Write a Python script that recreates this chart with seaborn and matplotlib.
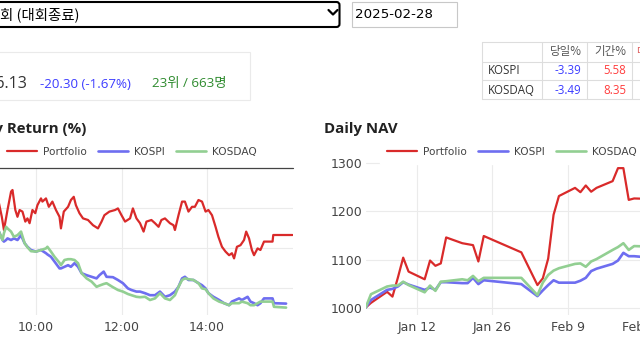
import pandas as pd
import seaborn as sns
import matplotlib.pyplot as plt
from matplotlib.patches import Rectangle, FancyBboxPatch
from matplotlib.lines import Line2D
from matplotlib.transforms import IdentityTransform

# intraday return (%) of the portfolio
port_time = ["09:08", "09:12", "09:15", "09:20", "09:25", "09:27", "09:31", "09:34", "09:37", "09:41",
             "09:45", "09:48", "09:51", "09:55", "09:59", "10:02", "10:07", "10:09", "10:14", "10:18",
             "10:23", "10:28", "10:33", "10:35", "10:39", "10:45", "10:49", "10:53", "10:56", "11:01",
             "11:06", "11:13", "11:20", "11:27", "11:32", "11:36", "11:43", "11:51", "11:55", "12:00",
             "12:05", "12:12", "12:16", "12:21", "12:26", "12:31", "12:35", "12:42", "12:47", "12:52",
             "12:56", "13:01", "13:08", "13:13", "13:15", "13:20", "13:25", "13:29", "13:34", "13:39",
             "13:43", "13:48", "13:53", "13:58", "14:02", "14:07", "14:12", "14:16", "14:21", "14:26",
             "14:31", "14:35", "14:38", "14:42", "14:47", "14:52", "14:55", "14:59", "15:03", "15:06",
             "15:11", "15:15", "15:20", "15:32", "15:33", "16:00"]
port_ret = [-0.88, -1.22, -1.55, -1.05, -0.59, -0.55, -1.05, -1.22, -1.05, -1.09,
            -1.34, -1.26, -1.38, -1.05, -1.13, -0.93, -0.76, -0.84, -0.76, -0.97,
            -0.84, -1.05, -1.22, -1.51, -1.09, -0.97, -0.80, -0.72, -0.93, -1.13,
            -1.26, -1.30, -1.43, -1.51, -1.34, -1.18, -1.09, -1.05, -1.01, -1.18,
            -1.34, -1.26, -1.01, -1.26, -1.38, -1.59, -1.34, -1.30, -1.38, -1.47,
            -1.30, -1.26, -1.38, -1.43, -1.55, -1.18, -0.84, -0.84, -1.09, -0.97,
            -0.97, -0.80, -0.84, -1.09, -1.05, -1.18, -1.47, -1.72, -1.97, -2.09,
            -2.18, -2.13, -2.26, -1.97, -1.93, -1.80, -1.59, -1.76, -2.05, -2.18,
            -2.01, -2.05, -1.84, -1.84, -1.675, -1.675]

# intraday return (%) of the two indices
idx_time = ["09:08", "09:13", "09:15", "09:18", "09:20", "09:25", "09:29", "09:34", "09:39", "09:44",
            "09:48", "09:53", "10:00", "10:07", "10:14", "10:16", "10:21", "10:26", "10:33", "10:35",
            "10:40", "10:45", "10:49", "10:54", "10:59", "11:04", "11:11", "11:18", "11:25", "11:29",
            "11:35", "11:39", "11:48", "11:55", "12:02", "12:09", "12:14", "12:21", "12:26", "12:33",
            "12:40", "12:47", "12:54", "13:01", "13:08", "13:15", "13:20", "13:25", "13:29", "13:34",
            "13:41", "13:48", "13:53", "13:58", "14:02", "14:09", "14:17", "14:24", "14:31", "14:35",
            "14:40", "14:45", "14:49", "14:57", "15:01", "15:06", "15:11", "15:15", "15:20", "15:27",
            "15:32", "15:34", "15:51"]
kospi_ret = [-1.59, -1.80, -1.84, -1.80, -1.76, -1.80, -1.76, -1.80, -1.68, -1.88,
             -1.97, -2.05, -2.09, -2.05, -2.13, -2.16, -2.22, -2.34, -2.51, -2.51,
             -2.47, -2.43, -2.47, -2.38, -2.47, -2.63, -2.68, -2.72, -2.76, -2.68,
             -2.59, -2.72, -2.73, -2.80, -2.88, -3.01, -3.05, -3.09, -3.09, -3.13,
             -3.18, -3.18, -3.09, -3.22, -3.18, -3.09, -2.97, -2.76, -2.72, -2.80,
             -2.80, -2.88, -2.93, -3.01, -3.13, -3.22, -3.30, -3.38, -3.43, -3.34,
             -3.30, -3.26, -3.30, -3.22, -3.34, -3.38, -3.43, -3.38, -3.26, -3.26,
             -3.26, -3.38, -3.39]
kosdaq_ret = [-1.59, -1.80, -1.63, -1.47, -1.51, -1.59, -1.72, -1.68, -1.59, -1.88,
              -1.98, -2.08, -2.09, -2.05, -2.01, -1.97, -2.09, -2.22, -2.37, -2.43,
              -2.30, -2.28, -2.28, -2.30, -2.38, -2.63, -2.76, -2.84, -2.97, -2.94,
              -2.90, -2.88, -2.98, -3.05, -3.09, -3.15, -3.18, -3.22, -3.23, -3.22,
              -3.30, -3.26, -3.13, -3.26, -3.30, -3.18, -2.97, -2.80, -2.76, -2.78,
              -2.80, -2.88, -3.01, -3.03, -3.13, -3.26, -3.34, -3.38, -3.43, -3.38,
              -3.38, -3.38, -3.34, -3.38, -3.43, -3.43, -3.38, -3.34, -3.34, -3.34,
              -3.34, -3.47, -3.49]
ret_ticks = ["10:00", "12:00", "14:00"]
ret_yticks = [-3, -2, -1]

# daily NAV
nav_dates = ["2025-01-02", "2025-01-03", "2025-01-06", "2025-01-07", "2025-01-08", "2025-01-09",
             "2025-01-10", "2025-01-13", "2025-01-14", "2025-01-15", "2025-01-16", "2025-01-17",
             "2025-01-20", "2025-01-21", "2025-01-22", "2025-01-23", "2025-01-24", "2025-01-31",
             "2025-02-03", "2025-02-04", "2025-02-05", "2025-02-06", "2025-02-07", "2025-02-10",
             "2025-02-11", "2025-02-12", "2025-02-13", "2025-02-14", "2025-02-17", "2025-02-18",
             "2025-02-19", "2025-02-20", "2025-02-21", "2025-02-24", "2025-02-25", "2025-02-26",
             "2025-02-27", "2025-02-28"]
port_nav = [1000, 1010, 1033, 1023, 1062, 1104, 1075, 1059, 1098, 1087,
            1092, 1146, 1134, 1132, 1130, 1096, 1149, 1115, 1047, 1061,
            1102, 1193, 1232, 1249, 1240, 1254, 1241, 1249, 1263, 1290,
            1290, 1224, 1227, 1226, 1229, 1222, 1216.43, 1196.13]
kospi_nav = [1000, 1016, 1037, 1039, 1044, 1053, 1048, 1037, 1042, 1037,
             1053, 1053, 1051, 1051, 1062, 1049, 1057, 1049, 1024, 1036,
             1047, 1057, 1052, 1052, 1056, 1062, 1076, 1081, 1091, 1098,
             1114, 1107, 1107, 1104, 1100, 1101, 1092.8, 1055.8]
kosdaq_nav = [1000, 1028, 1044, 1046, 1046, 1054, 1047, 1032, 1046, 1035,
              1054, 1055, 1059, 1057, 1066, 1055, 1062, 1062, 1026, 1052,
              1068, 1077, 1082, 1091, 1092, 1085, 1096, 1101, 1120, 1126,
              1134, 1120, 1128, 1127, 1125, 1128, 1122.7, 1083.5]
nav_ticks = ["2025-01-12", "2025-01-26", "2025-02-09", "2025-02-23"]
nav_tick_labels = ["Jan 12", "Jan 26", "Feb 9", "Feb 23"]
nav_yticks = [1000, 1100, 1200, 1300]

# header / table
rank, players = 23, 663
index_names = ["KOSPI", "KOSDAQ"]
index_day = ["-3.39", "-3.49"]
index_period = ["5.58", "8.35"]

series = ["Portfolio", "KOSPI", "KOSDAQ"]
colors = {"Portfolio": "#d92a2a", "KOSPI": "#6e6ef0", "KOSDAQ": "#92cf92"}
widths = {"Portfolio": 1.6, "KOSPI": 1.9, "KOSDAQ": 1.9}

W, H = 640, 360
DAY = "2025-02-28"
KR = ["Noto Sans CJK KR", "DejaVu Sans"]

sns.set_style("white")
plt.rcParams["font.family"] = ["DejaVu Sans"]

fig = plt.figure(figsize=(W / 100, H / 100), dpi=100)
PX = IdentityTransform()


def fx(x):
    return x / W


def fy(y):
    return 1 - y / H


def text(x, y, s, **kw):
    fig.text(fx(x), fy(y), s, **kw)


def box(x0, y0, x1, y1, **kw):
    fig.add_artist(Rectangle((x0, H - y1), x1 - x0, y1 - y0, transform=PX, **kw))


def seg(xs, ys, **kw):
    fig.add_artist(Line2D(xs, [H - y for y in ys], transform=PX, **kw))


# ---- page controls ----
fig.add_artist(FancyBboxPatch((-10, H - 27), 349.5, 25, boxstyle="round,pad=0,rounding_size=3",
                              transform=PX, fc="white", ec="black", lw=1.5))
seg([328.5, 333, 337.5], [10, 14.5, 10], color="black", lw=1.6)
text(80, 15, "회 (대회종료)", ha="right", va="center", family=KR, size=10.4, color="black")
box(352, 2, 457, 27, fc="white", ec="#c8c8c8", lw=0.8)
text(354.5, 15, DAY, ha="left", va="center", size=9.6, color="black")

# ---- summary box ----
box(-5, 52, 249.5, 99.5, fc="none", ec="#eaeaea", lw=0.8)
chg = port_nav[-1] - port_nav[-2]
text(27.5, 88, f"{port_nav[-1]:.2f}", ha="right", va="baseline", family="Open Sans", size=11.5, color="#333333")
text(40, 87.5, f"{chg:.2f} ({chg / port_nav[-2] * 100:.2f}%)", ha="left", va="baseline",
     family="Open Sans", size=9.6, color="#3c3cff")
text(152.5, 87.5, f"{rank}위 / {players}명", ha="left", va="baseline",
     family=["Open Sans", "Noto Sans CJK KR"], size=9.6, color="#2e8b2e")

# ---- index table ----
for y in [42, 62, 80, 99]:
    seg([482, 645], [y, y], color="#dddddd", lw=0.8)
for x in [482, 542, 587, 632]:
    seg([x, x], [42, 99], color="#dddddd", lw=0.8)
text(581.5, 52, "당일%", ha="right", va="center", family=KR, size=8.3, color="#555555")
text(626.5, 52, "기간%", ha="right", va="center", family=KR, size=8.3, color="#555555")
text(636, 52, "대회%", ha="left", va="center", family=KR, size=8.3, color="#e06666")
for i, name in enumerate(index_names):
    y = 71 + 19 * i
    text(488, y, name, ha="left", va="center", family="Open Sans", size=8.3, color="#333333")
    text(581.5, y, index_day[i], ha="right", va="center", family="Open Sans", size=8.3, color="#3c3cff")
    text(626.5, y, index_period[i], ha="right", va="center", family="Open Sans", size=8.3, color="#ff3c3c")

# ---- titles ----
text(86, 132.5, "Daily Return (%)", ha="right", va="baseline", family="Open Sans",
     weight="bold", size=10.8, color="#222222")
text(324, 132.5, "Daily NAV", ha="left", va="baseline", family="Open Sans",
     weight="bold", size=10.8, color="#222222")

# ---- daily return chart ----
ret_df = pd.concat([
    pd.DataFrame({"time": port_time, "ret": port_ret, "series": "Portfolio"}),
    pd.DataFrame({"time": idx_time, "ret": kospi_ret, "series": "KOSPI"}),
    pd.DataFrame({"time": idx_time, "ret": kosdaq_ret, "series": "KOSDAQ"}),
])
ret_df["time"] = pd.to_datetime(DAY + " " + ret_df["time"])

ax1 = fig.add_axes([fx(-6.75), fy(315), 299.25 / W, 147 / H])
for s in series:
    sns.lineplot(data=ret_df[ret_df.series == s], x="time", y="ret", color=colors[s],
                 lw=widths[s], label=s, estimator=None, ax=ax1)
ax1.axhline(0, color="#444444", lw=0.9, clip_on=False, zorder=3)
ax1.set_xlim(pd.Timestamp(DAY + " 09:00"), pd.Timestamp(DAY + " 16:00"))
ax1.set_ylim(-3.675, 0)
ax1.set_xticks(pd.to_datetime([DAY + " " + t for t in ret_ticks]))
ax1.set_xticklabels(ret_ticks)
ax1.set_yticks(ret_yticks)
ax1.set_yticklabels([])

# ---- daily NAV chart ----
nav_df = pd.DataFrame({"date": pd.to_datetime(nav_dates) + pd.Timedelta(hours=9),
                       "Portfolio": port_nav, "KOSPI": kospi_nav, "KOSDAQ": kosdaq_nav})
nav_long = nav_df.melt(id_vars="date", var_name="series", value_name="nav")

ax2 = fig.add_axes([fx(365.6), fy(315), 306.1 / W, 165 / H])
for s in series:
    sns.lineplot(data=nav_long[nav_long.series == s], x="date", y="nav", color=colors[s],
                 lw=widths[s], label=s, estimator=None, ax=ax2)
ax2.set_xlim(nav_df.date.min(), nav_df.date.max())
ax2.set_ylim(984.8, 1327.7)
ax2.set_xticks(pd.to_datetime(nav_ticks))
ax2.set_xticklabels(nav_tick_labels)
ax2.set_yticks(nav_yticks)

for ax, lx in [(ax1, 0), (ax2, 379.6)]:
    ax.set_xlabel("")
    ax.set_ylabel("")
    for sp in ax.spines.values():
        sp.set_visible(False)
    ax.grid(True, color="#ebebeb", lw=0.8)
    ax.set_axisbelow(True)
    ax.tick_params(length=0, labelsize=9, labelcolor="#444444")
    ax.tick_params(axis="x", pad=4.5)
    ax.tick_params(axis="y", pad=2.2)
    h, l = ax.get_legend_handles_labels()
    ax.legend(h, l, loc="center left", bbox_to_anchor=(fx(lx), fy(152)),
              bbox_transform=fig.transFigure, ncol=3, frameon=True, facecolor="white",
              edgecolor="white", framealpha=1, fancybox=False, borderpad=0.7,
              borderaxespad=0, handlelength=2.86, handletextpad=0.57, columnspacing=1.05,
              prop={"family": "DejaVu Sans", "size": 7.56}, labelcolor="#444444")

fig.savefig("out.png", dpi=100)
